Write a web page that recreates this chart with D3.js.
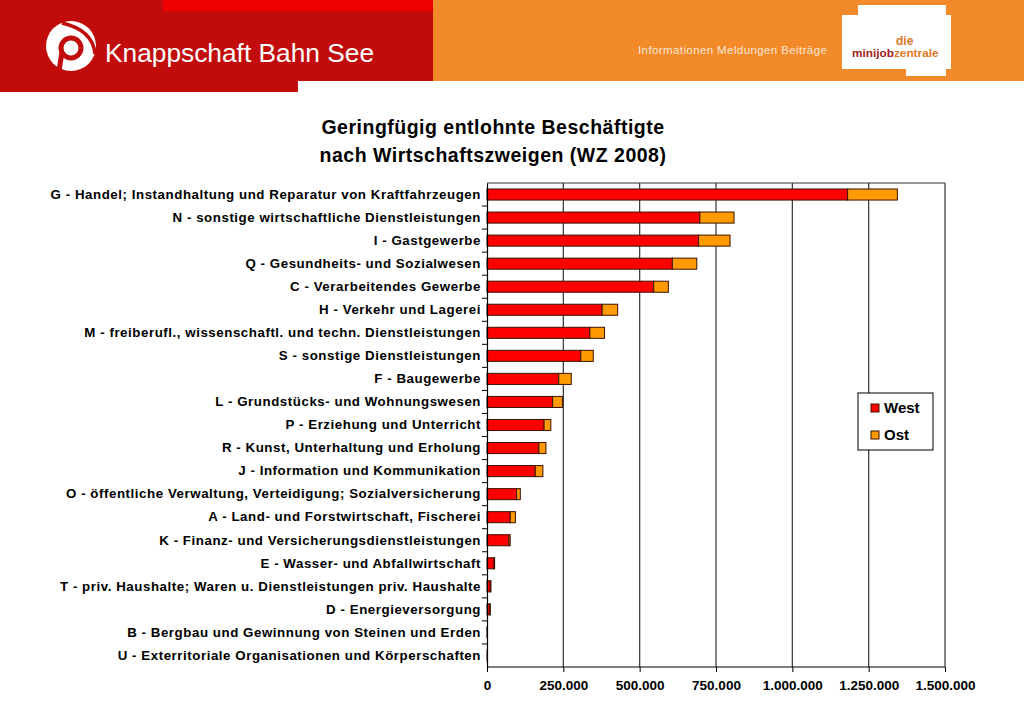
<!DOCTYPE html>
<html><head><meta charset="utf-8">
<script src="https://cdn.jsdelivr.net/npm/d3@7"></script>
<style>html,body{margin:0;padding:0;background:#fff;}svg{display:block;}</style>
</head><body>
<script>
const categories = [
 "G - Handel; Instandhaltung und Reparatur von Kraftfahrzeugen",
 "N - sonstige wirtschaftliche Dienstleistungen",
 "I - Gastgewerbe",
 "Q - Gesundheits- und Sozialwesen",
 "C - Verarbeitendes Gewerbe",
 "H - Verkehr und Lagerei",
 "M - freiberufl., wissenschaftl. und techn. Dienstleistungen",
 "S - sonstige Dienstleistungen",
 "F - Baugewerbe",
 "L - Grundstücks- und Wohnungswesen",
 "P - Erziehung und Unterricht",
 "R - Kunst, Unterhaltung und Erholung",
 "J - Information und Kommunikation",
 "O - öffentliche Verwaltung, Verteidigung; Sozialversicherung",
 "A - Land- und Forstwirtschaft, Fischerei",
 "K - Finanz- und Versicherungsdienstleistungen",
 "E - Wasser- und Abfallwirtschaft",
 "T - priv. Haushalte; Waren u. Dienstleistungen priv. Haushalte",
 "D - Energieversorgung",
 "B - Bergbau und Gewinnung von Steinen und Erden",
 "U - Exterritoriale Organisationen und Körperschaften"
];
const west = [1181000, 697000, 693000, 607000, 546000, 377000, 337000, 307000, 235000, 215000, 187000, 170000, 158000, 97000, 76000, 72000, 23000, 11000, 9000, 1000, 200];
const ost  = [163000, 112000, 103000, 80000, 48000, 51000, 48000, 41000, 41000, 32000, 22000, 23000, 25000, 12000, 17000, 4000, 2000, 2000, 2000, 500, 0];
const seriesNames = ["West", "Ost"];
const xTicks = [0, 250000, 500000, 750000, 1000000, 1250000, 1500000];
const titleLines = ["Geringfügig entlohnte Beschäftigte", "nach Wirtschaftszweigen (WZ 2008)"];

const W = 1024, H = 709;
const svg = d3.select("body").append("svg").attr("width", W).attr("height", H);
const F = "Arial, 'Liberation Sans', sans-serif";

// ---- header ----
svg.append("rect").attr("x",433).attr("y",0).attr("width",591).attr("height",81).attr("fill","#f28a2a");
svg.append("rect").attr("x",0).attr("y",0).attr("width",433).attr("height",81).attr("fill","#c20b0b");
svg.append("rect").attr("x",0).attr("y",81).attr("width",298).attr("height",11).attr("fill","#c20b0b");
svg.append("rect").attr("x",163).attr("y",0).attr("width",270).attr("height",11).attr("fill","#ee0000");
// logo
const lg = svg.append("g").attr("transform","translate(71,46)");
lg.append("circle").attr("r",25).attr("fill","#fff");
lg.append("path").attr("d","M-9,-23 Q22,-16 24,8").attr("fill","none").attr("stroke","#c20b0b").attr("stroke-width",3.5);
lg.append("circle").attr("cx",0).attr("cy",2).attr("r",10).attr("fill","#fff").attr("stroke","#c20b0b").attr("stroke-width",5);
lg.append("path").attr("d","M-9,6 L-12,25").attr("stroke","#c20b0b").attr("stroke-width",5);
svg.append("text").attr("x",105).attr("y",62).attr("fill","#fff").attr("font-family",F).attr("font-size",26.3).text("Knappschaft Bahn See");
svg.append("text").attr("x",638).attr("y",54).attr("fill","#fbe6d2").attr("font-family",F).attr("font-size",11.5).attr("letter-spacing",0.4).text("Informationen  Meldungen  Beiträge");
svg.append("path").attr("d","M858,5 L946,5 L946,15 L951,15 L951,69 L946,69 L946,76 L906,76 L906,69 L842,69 L842,15 L858,15 Z").attr("fill","#fff");
svg.append("text").attr("x",896).attr("y",45).attr("fill","#e0782a").attr("font-family",F).attr("font-size",12).attr("font-weight","bold").text("die");
const mj = svg.append("text").attr("x",852).attr("y",57).attr("font-family",F).attr("font-size",11.8).attr("font-weight","bold");
mj.append("tspan").attr("fill","#a31d1d").text("minijob");
mj.append("tspan").attr("fill","#e0782a").text("zentrale");

// ---- title ----
svg.append("g").selectAll("text").data(titleLines).join("text")
  .attr("x",493).attr("y",(d,i)=>134+i*28).attr("text-anchor","middle")
  .attr("font-family",F).attr("font-weight","bold").attr("font-size",19.5).attr("letter-spacing",0.5).attr("fill","#000").text(d=>d);

// ---- chart ----
const x = d3.scaleLinear().domain([0,1500000]).range([487,945]);
const y = d3.scaleBand().domain(categories).range([183,667]).paddingInner(0.52).paddingOuter(0.26);
const loc = d3.formatLocale({decimal:",", thousands:".", grouping:[3], currency:["","€"]});
const fmt = loc.format(",d");

// gridlines
svg.append("g").selectAll("line").data(xTicks.slice(1)).join("line")
  .attr("x1",d=>x(d)).attr("x2",d=>x(d)).attr("y1",183).attr("y2",667)
  .attr("stroke","#333").attr("stroke-width",1.2);
svg.append("line").attr("x1",487).attr("x2",945).attr("y1",183).attr("y2",183).attr("stroke","#333").attr("stroke-width",1.2);

const stack = categories.map((c,i)=>({c, w:west[i], o:ost[i]}));
const colors = ["#ff0000","#ff9a00"];
const bars = svg.append("g");
bars.selectAll("rect.w").data(stack).join("rect").attr("class","w")
  .attr("x",x(0)).attr("y",d=>y(d.c)).attr("height",y.bandwidth())
  .attr("width",d=>x(d.w)-x(0)).attr("fill",colors[0]).attr("stroke","#3a1200").attr("stroke-width",1);
bars.selectAll("rect.o").data(stack.filter(d=>d.o>0)).join("rect").attr("class","o")
  .attr("x",d=>x(d.w)).attr("y",d=>y(d.c)).attr("height",y.bandwidth())
  .attr("width",d=>x(d.w+d.o)-x(d.w)).attr("fill",colors[1]).attr("stroke","#3a1200").attr("stroke-width",1);

// y axis
const yAxis = d3.axisLeft(y).tickSize(0).tickPadding(6);
const ya = svg.append("g").attr("transform","translate(487,0)").call(yAxis);
ya.select(".domain").attr("stroke","#000").attr("stroke-width",1.2);
ya.selectAll("text").attr("font-family",F).attr("font-weight","bold").attr("font-size",13.3).attr("letter-spacing",0.55).attr("fill","#000");
const bounds = d3.range(categories.length+1).map(i=>183+i*(484/categories.length));
svg.append("g").selectAll("line").data(bounds.slice(1,-1)).join("line")
  .attr("x1",482).attr("x2",487).attr("y1",d=>d).attr("y2",d=>d).attr("stroke","#000");

// x axis
const xAxis = d3.axisBottom(x).tickValues(xTicks).tickFormat(fmt).tickSize(5).tickPadding(8);
const xa = svg.append("g").attr("transform","translate(0,667)").call(xAxis);
xa.select(".domain").attr("stroke","#000").attr("stroke-width",1.2).attr("d","M487,0H945");
xa.selectAll(".tick line").attr("stroke","#000");
xa.selectAll("text").attr("font-family",F).attr("font-weight","bold").attr("font-size",13.5).attr("fill","#000");

// legend
const lgd = svg.append("g");
lgd.append("rect").attr("x",858).attr("y",393).attr("width",75).attr("height",57).attr("fill","#fff").attr("stroke","#000");
seriesNames.forEach((s,i)=>{
  lgd.append("rect").attr("x",871).attr("y",404+i*27).attr("width",8).attr("height",8).attr("fill",colors[i]).attr("stroke","#3a1200");
  lgd.append("text").attr("x",884).attr("y",413+i*27).attr("font-family",F).attr("font-size",15).attr("font-weight","bold").attr("fill","#000").text(s);
});
</script>
</body></html>
